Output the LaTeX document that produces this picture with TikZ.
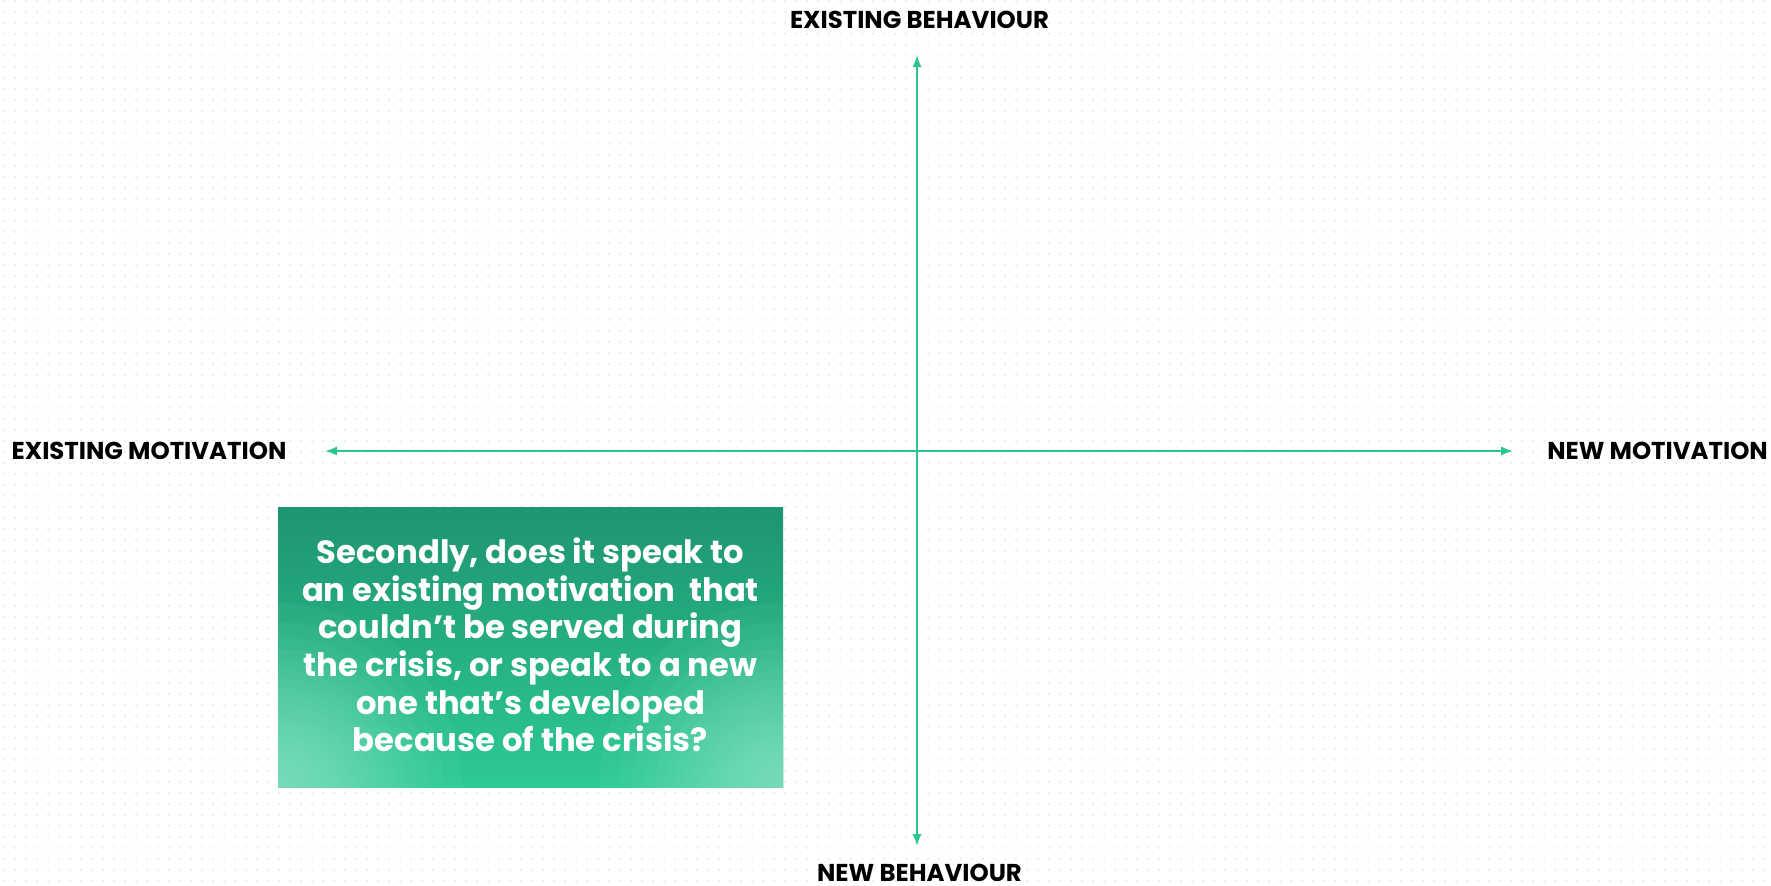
\documentclass[tikz,border=0pt]{standalone}
\usepackage{fontspec}
\setmainfont{Poppins}
\usepackage{xcolor}
\definecolor{axisg}{HTML}{2DC58F}
\definecolor{boxtop}{HTML}{1E9470}
\definecolor{boxmid}{HTML}{2DCA95}
\definecolor{boxglow}{HTML}{8CE7CA}
\definecolor{dotg}{HTML}{D8D8D8}
\usetikzlibrary{arrows.meta,patterns}

\pgfdeclarepatternformonly{bgdots}{\pgfpointorigin}{\pgfpoint{5.5pt}{5.5pt}}{\pgfpoint{5.5pt}{5.5pt}}{%
  \pgfpathcircle{\pgfpoint{2.75pt}{2.75pt}}{0.45pt}\pgfusepath{fill}}

\begin{document}
\begin{tikzpicture}[x=0.5pt,y=-0.5pt,
  axis/.style={draw=axisg,line width=1pt,{Latex[length=6pt,width=4.6pt]}-{Latex[length=6pt,width=4.6pt]}},
  axislbl/.style={font=\fontsize{12.2}{15}\selectfont\bfseries,text=black,inner sep=0pt,anchor=base},
  glow/.style={fill=boxglow,fill opacity=0.07}]
  \useasboundingbox (0,0) rectangle (1771,885);
  \fill[white] (0,0) rectangle (1771,885);
  \fill[pattern=bgdots,pattern color=dotg] (0,0) rectangle (1771,885);

  % axes
  \coordinate (up) at (917,55);
  \coordinate (down) at (917,846);
  \coordinate (lft) at (325,451);
  \coordinate (rgt) at (1513,451);
  \draw[axis] (down) -- (up);
  \draw[axis] (lft) -- (rgt);

  \node[axislbl] (eb) at (919.5,28) {EXISTING BEHAVIOUR};
  \node[axislbl] (nb) at (919.5,881) {NEW BEHAVIOUR};
  \node[axislbl] (em) at (149,459) {EXISTING MOTIVATION};
  \node[axislbl] (nm) at (1657.5,459) {NEW MOTIVATION};

  % question box
  \node[top color=boxtop,bottom color=boxmid,minimum width=252.5pt,minimum height=140pt,inner sep=0pt,
  path picture={
    \foreach \k in {1,...,24} {
      \pgfmathsetmacro\r{230*(1-sqrt(\k/25))}
      \fill[glow] (path picture bounding box.south west) circle (\r);
      \fill[glow] (path picture bounding box.south east) circle (\r);
    }
  }] (qbox) at (530.5,647) {};
  \node[text=white,align=center,inner sep=0pt,
  font=\fontsize{16.1}{18.8}\selectfont\bfseries] (qtext) at (530.5,645)
  {Secondly, does it speak to\\an existing motivation~ that\\couldn’t be served during\\the crisis, or speak to a new\\one that’s developed\\because of the crisis?};
\end{tikzpicture}
\end{document}
